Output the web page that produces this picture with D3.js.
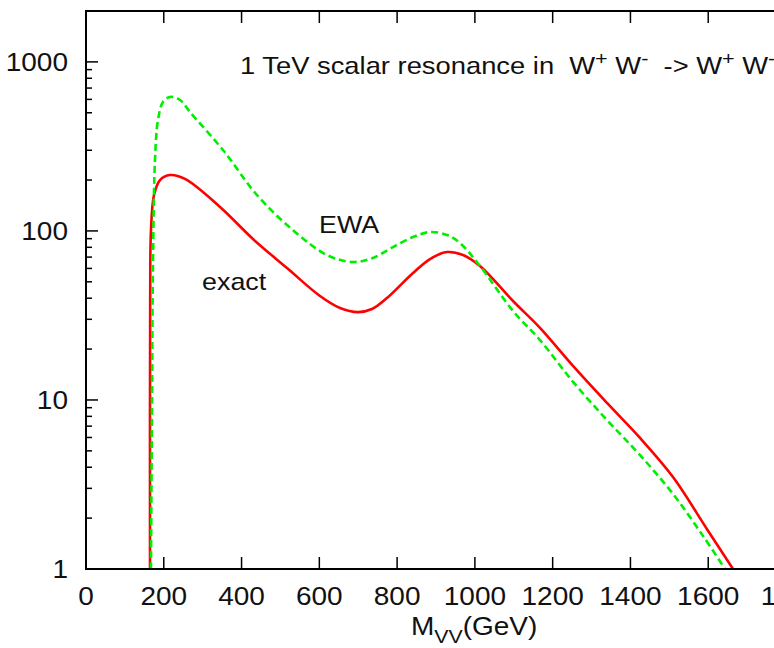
<!DOCTYPE html>
<html>
<head>
<meta charset="utf-8">
<script src="https://cdn.jsdelivr.net/npm/d3@7"></script>
<style>
  html, body { margin: 0; padding: 0; background: #fff; overflow: hidden; }
  text { font-family: "Liberation Sans", Arial, Helvetica, sans-serif; fill: #111; white-space: pre; }
</style>
</head>
<body>
<svg id="chart" width="774" height="648"></svg>
<script>
// ---- data ----
const exactM = [164.6, 165.0, 167.1, 174.9, 190.3, 216, 254.6, 344.6, 429.4, 516.9, 601.7, 653.1, 699.4, 735.4, 774, 840.9, 884.6, 928.3, 969.4, 1013.1, 1098, 1167.4, 1252.3, 1339.7, 1424.6, 1509.4, 1596.9, 1663.7];
const exactV = [1, 39, 101, 163, 200, 214, 203, 138.5, 89.6, 60.3, 41.2, 35, 33.1, 34.5, 40.1, 56.4, 68.2, 75, 72, 62, 38.5, 26.7, 15.9, 9.6, 5.96, 3.5, 1.72, 1];
const ewaM = [167.1, 169.7, 172.3, 177.4, 185.1, 198, 216, 241.7, 267.4, 352.3, 439.7, 532.3, 619.7, 686.6, 738, 789.4, 840.9, 884.6, 928.3, 961.7, 1013.1, 1098, 1167.4, 1252.3, 1339.7, 1424.6, 1509.4, 1586.6, 1643.1];
const ewaV = [1, 10, 67.3, 263, 453, 579, 620, 595, 505, 301, 163, 101, 72, 65.5, 69.2, 80.3, 92, 98.5, 94.6, 84.8, 62, 33.6, 22.6, 12.8, 7.6, 4.72, 2.78, 1.57, 1];
const xTicks = [0, 200, 400, 600, 800, 1000, 1200, 1400, 1600, 1800];
const yTicks = [1, 10, 100, 1000];

// ---- layout ----
const svg = d3.select("#chart");
const L = 86, R = 786, T = 11, B = 569;
const x = d3.scaleLinear().domain([0, 1800]).range([L, R]);
const y = d3.scaleLog().domain([1, 2000]).range([B, T]);
const FS = 25, SX = 1.12;

function addText(px, py, anchor, size, parts, sx) {
  const t = svg.append("text")
    .attr("transform", `translate(${px},${py}) scale(${sx || SX},1)`)
    .attr("text-anchor", anchor).attr("font-size", size);
  parts.forEach(p => {
    const s = t.append("tspan").text(p.t);
    if (p.dy) s.attr("dy", p.dy);
    if (p.fs) s.attr("font-size", p.fs);
  });
  return t;
}

svg.append("defs").append("clipPath").attr("id", "clip")
  .append("rect").attr("x", L).attr("y", T).attr("width", R - L).attr("height", B - T);

const minor = [];
for (let d = 1; d <= 1000; d *= 10) for (let k = 2; k <= 9; k++) { if (d * k < 2000) minor.push(d * k); }

const g = svg.append("g");
xTicks.forEach(t => {
  g.append("line").attr("x1", x(t)).attr("x2", x(t)).attr("y1", B).attr("y2", B - 12).attr("stroke", "#000").attr("stroke-width", 1.5);
  g.append("line").attr("x1", x(t)).attr("x2", x(t)).attr("y1", T).attr("y2", T + 12).attr("stroke", "#000").attr("stroke-width", 1.5);
  addText(x(t) + (t === 1800 ? 6 : 0), 605, "middle", FS, [{t: String(t)}]);
});
yTicks.forEach(t => {
  g.append("line").attr("x1", L).attr("x2", L + 12).attr("y1", y(t)).attr("y2", y(t)).attr("stroke", "#000").attr("stroke-width", 1.5);
  g.append("line").attr("x1", R).attr("x2", R - 12).attr("y1", y(t)).attr("y2", y(t)).attr("stroke", "#000").attr("stroke-width", 1.5);
  addText(68, y(t) + 9, "end", FS, [{t: String(t)}]);
});
minor.forEach(t => {
  g.append("line").attr("x1", L).attr("x2", L + 6).attr("y1", y(t)).attr("y2", y(t)).attr("stroke", "#000").attr("stroke-width", 1.5);
  g.append("line").attr("x1", R).attr("x2", R - 6).attr("y1", y(t)).attr("y2", y(t)).attr("stroke", "#000").attr("stroke-width", 1.5);
});

const line = d3.line().x(d => x(d[0])).y(d => y(d[1])).curve(d3.curveCatmullRom.alpha(0.5));
const exact = exactM.map((m, i) => [m, exactV[i]]);
const ewa = ewaM.map((m, i) => [m, ewaV[i]]);
const cg = svg.append("g").attr("clip-path", "url(#clip)");
cg.append("path").datum(exact).attr("d", line).attr("fill", "none").attr("stroke", "#ff0000").attr("stroke-width", 2.6);
cg.append("path").datum(ewa).attr("d", line).attr("fill", "none").attr("stroke", "#00ee00").attr("stroke-width", 2.6).attr("stroke-dasharray", "7,4");

svg.append("rect").attr("x", L).attr("y", T).attr("width", R - L).attr("height", B - T)
  .attr("fill", "none").attr("stroke", "#000").attr("stroke-width", 2);

addText(240, 74, "start", 24, [
  {t: "1 TeV scalar resonance in  W"}, {t: "+", dy: -9, fs: 19}, {t: " W", dy: 9}, {t: "-", dy: -9, fs: 19},
  {t: "  -> W", dy: 9}, {t: "+", dy: -9, fs: 19}, {t: " W", dy: 9}, {t: "-", dy: -9, fs: 19}
], 1.14);
addText(319, 233, "start", 24, [{t: "EWA"}]);
addText(202, 290, "start", 24, [{t: "exact"}]);
addText(411, 635, "start", FS, [{t: "M"}, {t: "VV", dy: 8, fs: 19}, {t: "(GeV)", dy: -8}]);
</script>
</body>
</html>
